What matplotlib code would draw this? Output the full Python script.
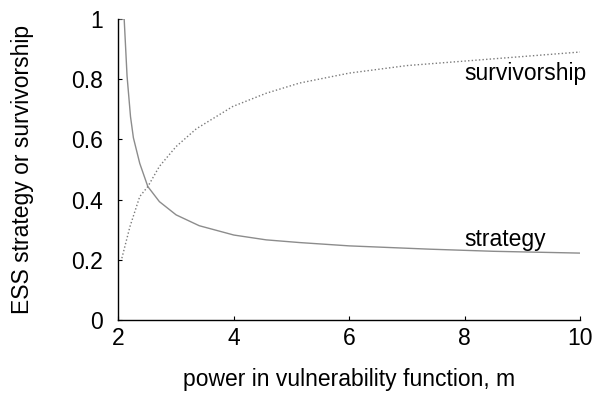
import matplotlib
matplotlib.use("Agg")
import matplotlib.pyplot as plt

# values
strategy_m = [2.03, 2.10, 2.15, 2.21, 2.26, 2.37, 2.51, 2.71, 3.0, 3.4, 4.0,
              4.56, 5.14, 6.0, 7.4, 8.5, 10.0]
strategy_y = [1.0, 1.0, 0.81, 0.675, 0.605, 0.52, 0.443, 0.393, 0.349, 0.313,
              0.282, 0.266, 0.257, 0.246, 0.235, 0.228, 0.222]

surv_m = [2.06, 2.20, 2.37, 2.51, 2.71, 3.0, 3.35, 3.98, 4.56, 5.14, 6.0,
          7.0, 8.27, 10.0]
surv_y = [0.205, 0.31, 0.41, 0.443, 0.51, 0.576, 0.635, 0.709, 0.753, 0.787,
          0.82, 0.845, 0.864, 0.89]

xticks = [2, 4, 6, 8, 10]
yticks = [0, 0.2, 0.4, 0.6, 0.8, 1]
ytick_labels = ["0", "0.2", "0.4", "0.6", "0.8", "1"]

plt.rcParams['font.family'] = ['Liberation Sans', 'DejaVu Sans']
fs = 16.5

fig = plt.figure(figsize=(5.92, 3.94), dpi=100)
ax = fig.add_axes([0.2, 0.188, 0.78, 0.764])

ax.plot(strategy_m, strategy_y, color='#8c8c8c', lw=1.0)
ax.plot(surv_m, surv_y, color='#7a7a7a', lw=1.0, linestyle=(0, (1, 1.6)))

ax.text(8.0, 0.82, "survivorship", fontsize=fs, va='center', ha='left')
ax.text(8.0, 0.266, "strategy", fontsize=fs, va='center', ha='left')

ax.set_xlim(2, 10)
ax.set_ylim(0, 1)
ax.set_xticks(xticks)
ax.set_xticklabels([str(t) for t in xticks])
ax.set_yticks(yticks)
ax.set_yticklabels(ytick_labels)
ax.tick_params(direction='in', length=3, labelsize=fs)
ax.tick_params(axis='x', pad=5)
ax.tick_params(axis='y', pad=11)

for side in ['top', 'right']:
    ax.spines[side].set_visible(False)
for side in ['left', 'bottom']:
    ax.spines[side].set_linewidth(1.0)

ax.set_xlabel("power in vulnerability function, m", fontsize=fs)
ax.set_ylabel("ESS strategy or survivorship", fontsize=fs)
ax.xaxis.set_label_coords(0.5, -0.16)
ax.yaxis.set_label_coords(-0.182, 0.5)

fig.savefig("out.png", dpi=100)
